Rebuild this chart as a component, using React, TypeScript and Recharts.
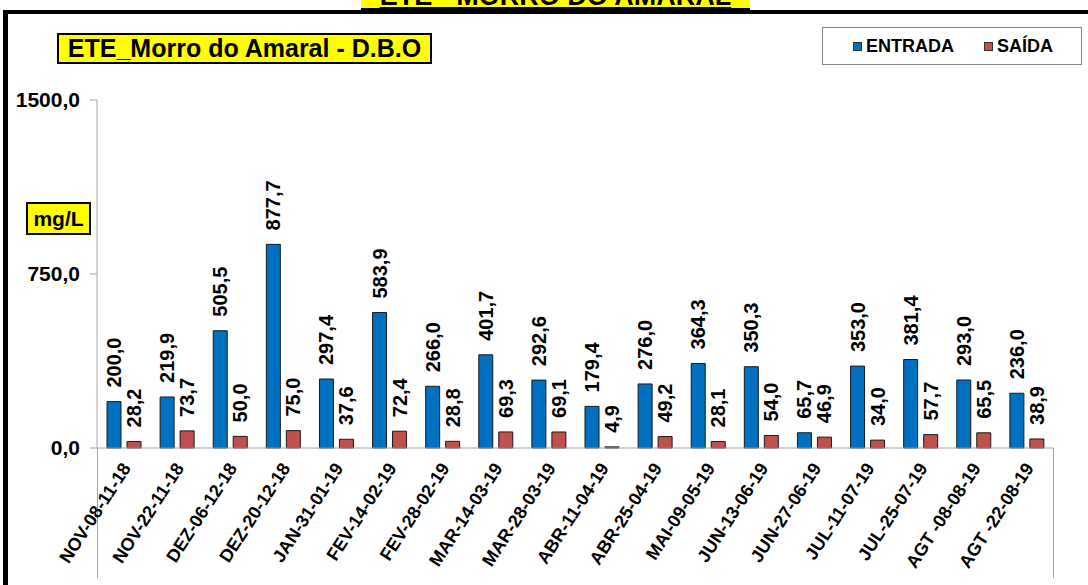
import { BarChart, Bar, XAxis, YAxis, LabelList } from "recharts"

const categories = [
  "NOV-08-11-18",
  "NOV-22-11-18",
  "DEZ-06-12-18",
  "DEZ-20-12-18",
  "JAN-31-01-19",
  "FEV-14-02-19",
  "FEV-28-02-19",
  "MAR-14-03-19",
  "MAR-28-03-19",
  "ABR-11-04-19",
  "ABR-25-04-19",
  "MAI-09-05-19",
  "JUN-13-06-19",
  "JUN-27-06-19",
  "JUL-11-07-19",
  "JUL-25-07-19",
  "AGT -08-08-19",
  "AGT -22-08-19",
]

const entrada = [
  200.0, 219.9, 505.5, 877.7, 297.4, 583.9, 266.0, 401.7, 292.6, 179.4, 276.0,
  364.3, 350.3, 65.7, 353.0, 381.4, 293.0, 236.0,
]

const saida = [
  28.2, 73.7, 50.0, 75.0, 37.6, 72.4, 28.8, 69.3, 69.1, 4.9, 49.2, 28.1, 54.0,
  46.9, 34.0, 57.7, 65.5, 38.9,
]

const yTicks = [0, 750, 1500]

const FONT = "'Liberation Sans', Arial, sans-serif"
const BLUE = "#0070C0"
const RED = "#C0504D"

const fmt = (v: number) => v.toFixed(1).replace(".", ",")

const data = categories.map((name, i) => ({
  name,
  entrada: entrada[i],
  saida: saida[i],
}))

function XTick(props: any) {
  const { x, y, payload } = props
  return (
    <text
      x={x + 8}
      y={y + 12}
      transform={`rotate(-57 ${x + 8} ${y + 12})`}
      textAnchor="end"
      fontFamily={FONT}
      fontWeight="bold"
      fontSize={18}
      fill="#000"
    >
      {payload.value}
    </text>
  )
}

function YTick(props: any) {
  const { x, y, payload } = props
  return (
    <text
      x={x - 8}
      y={y}
      dy={7}
      textAnchor="end"
      fontFamily={FONT}
      fontWeight="bold"
      fontSize={21}
      fill="#000"
    >
      {fmt(Number(payload.value))}
    </text>
  )
}

function ValueLabel(props: any) {
  const { x, y, width, value } = props
  const cx = x + width / 2
  const cy = y - 14
  return (
    <text
      x={cx}
      y={cy}
      transform={`rotate(-90 ${cx} ${cy})`}
      textAnchor="start"
      dominantBaseline="central"
      fontFamily={FONT}
      fontWeight="bold"
      fontSize={20}
      fill="#000"
    >
      {fmt(Number(value))}
    </text>
  )
}

function LegendBox() {
  const item = (color: string, label: string, gap: number) => (
    <span style={{ display: "flex", alignItems: "center", marginRight: gap }}>
      <span
        style={{
          width: 7,
          height: 7,
          background: color,
          border: "1px solid #333",
          marginRight: 4,
        }}
      />
      <span>{label}</span>
    </span>
  )
  return (
    <div
      style={{
        position: "absolute",
        left: 822,
        top: 27,
        width: 260,
        height: 38,
        border: "1px solid #888",
        background: "#fff",
        display: "flex",
        alignItems: "center",
        fontFamily: FONT,
        fontWeight: "bold",
        fontSize: 18,
        color: "#000",
        boxSizing: "border-box",
        paddingLeft: 30,
      }}
    >
      {item(BLUE, "ENTRADA", 30)}
      {item(RED, "SAÍDA", 0)}
    </div>
  )
}

export default function App() {
  return (
    <div
      style={{
        position: "absolute",
        left: 0,
        top: 0,
        width: 1088,
        height: 585,
        background: "#fff",
        overflow: "hidden",
      }}
    >
      {/* outer frame */}
      <div
        style={{
          position: "absolute",
          left: 3,
          top: 10,
          width: 1100,
          height: 600,
          borderTop: "4px solid #000",
          borderLeft: "5px solid #000",
        }}
      />
      {/* cut-off main title */}
      <div
        style={{
          position: "absolute",
          left: 361,
          top: -16,
          width: 389,
          height: 24,
          background: "#ffff00",
          borderBottom: "2px solid #000",
          fontFamily: FONT,
          fontWeight: "bold",
          fontSize: 27,
          lineHeight: "24px",
          textAlign: "center",
          color: "#000",
          textDecoration: "underline",
        }}
      >
        ETE - MORRO DO AMARAL
      </div>
      {/* chart title */}
      <div
        style={{
          position: "absolute",
          left: 57,
          top: 33,
          width: 375,
          height: 31,
          boxSizing: "border-box",
          background: "#ffff00",
          border: "2px solid #000",
          fontFamily: FONT,
          fontWeight: "bold",
          fontSize: 25,
          lineHeight: "27px",
          textAlign: "center",
          color: "#000",
        }}
      >
        ETE_Morro do Amaral - D.B.O
      </div>
      {/* unit box */}
      <div
        style={{
          position: "absolute",
          left: 26,
          top: 202,
          width: 65,
          height: 33,
          boxSizing: "border-box",
          background: "#ffff00",
          border: "2px solid #000",
          fontFamily: FONT,
          fontWeight: "bold",
          fontSize: 21,
          lineHeight: "29px",
          textAlign: "center",
          color: "#000",
        }}
      >
        mg/L
      </div>
      <LegendBox />
      {/* axis extensions below category axis */}
      <div
        style={{
          position: "absolute",
          left: 97,
          top: 448,
          width: 1,
          height: 130,
          background: "#a6a6a6",
        }}
      />
      <div
        style={{
          position: "absolute",
          left: 1053,
          top: 448,
          width: 1,
          height: 130,
          background: "#a6a6a6",
        }}
      />
      <div style={{ position: "absolute", left: 0, top: 0 }}>
        <BarChart
          width={1088}
          height={585}
          data={data}
          margin={{ top: 100, right: 35, bottom: 0, left: 0 }}
          barSize={14}
          barGap={6}
        >
          <XAxis
            dataKey="name"
            interval={0}
            height={137}
            tickLine={false}
            axisLine={{ stroke: "#a6a6a6" }}
            tick={<XTick />}
          />
          <YAxis
            width={97}
            domain={[0, 1500]}
            ticks={yTicks}
            interval={0}
            tickSize={7}
            tickLine={{ stroke: "#a6a6a6" }}
            axisLine={{ stroke: "#a6a6a6" }}
            tick={<YTick />}
          />
          <Bar
            dataKey="entrada"
            name="ENTRADA"
            fill={BLUE}
            stroke="#1a1a1a"
            strokeWidth={1}
            isAnimationActive={false}
          >
            <LabelList dataKey="entrada" content={<ValueLabel />} />
          </Bar>
          <Bar
            dataKey="saida"
            name="SAÍDA"
            fill={RED}
            stroke="#1a1a1a"
            strokeWidth={1}
            isAnimationActive={false}
          >
            <LabelList dataKey="saida" content={<ValueLabel />} />
          </Bar>
        </BarChart>
      </div>
    </div>
  )
}
